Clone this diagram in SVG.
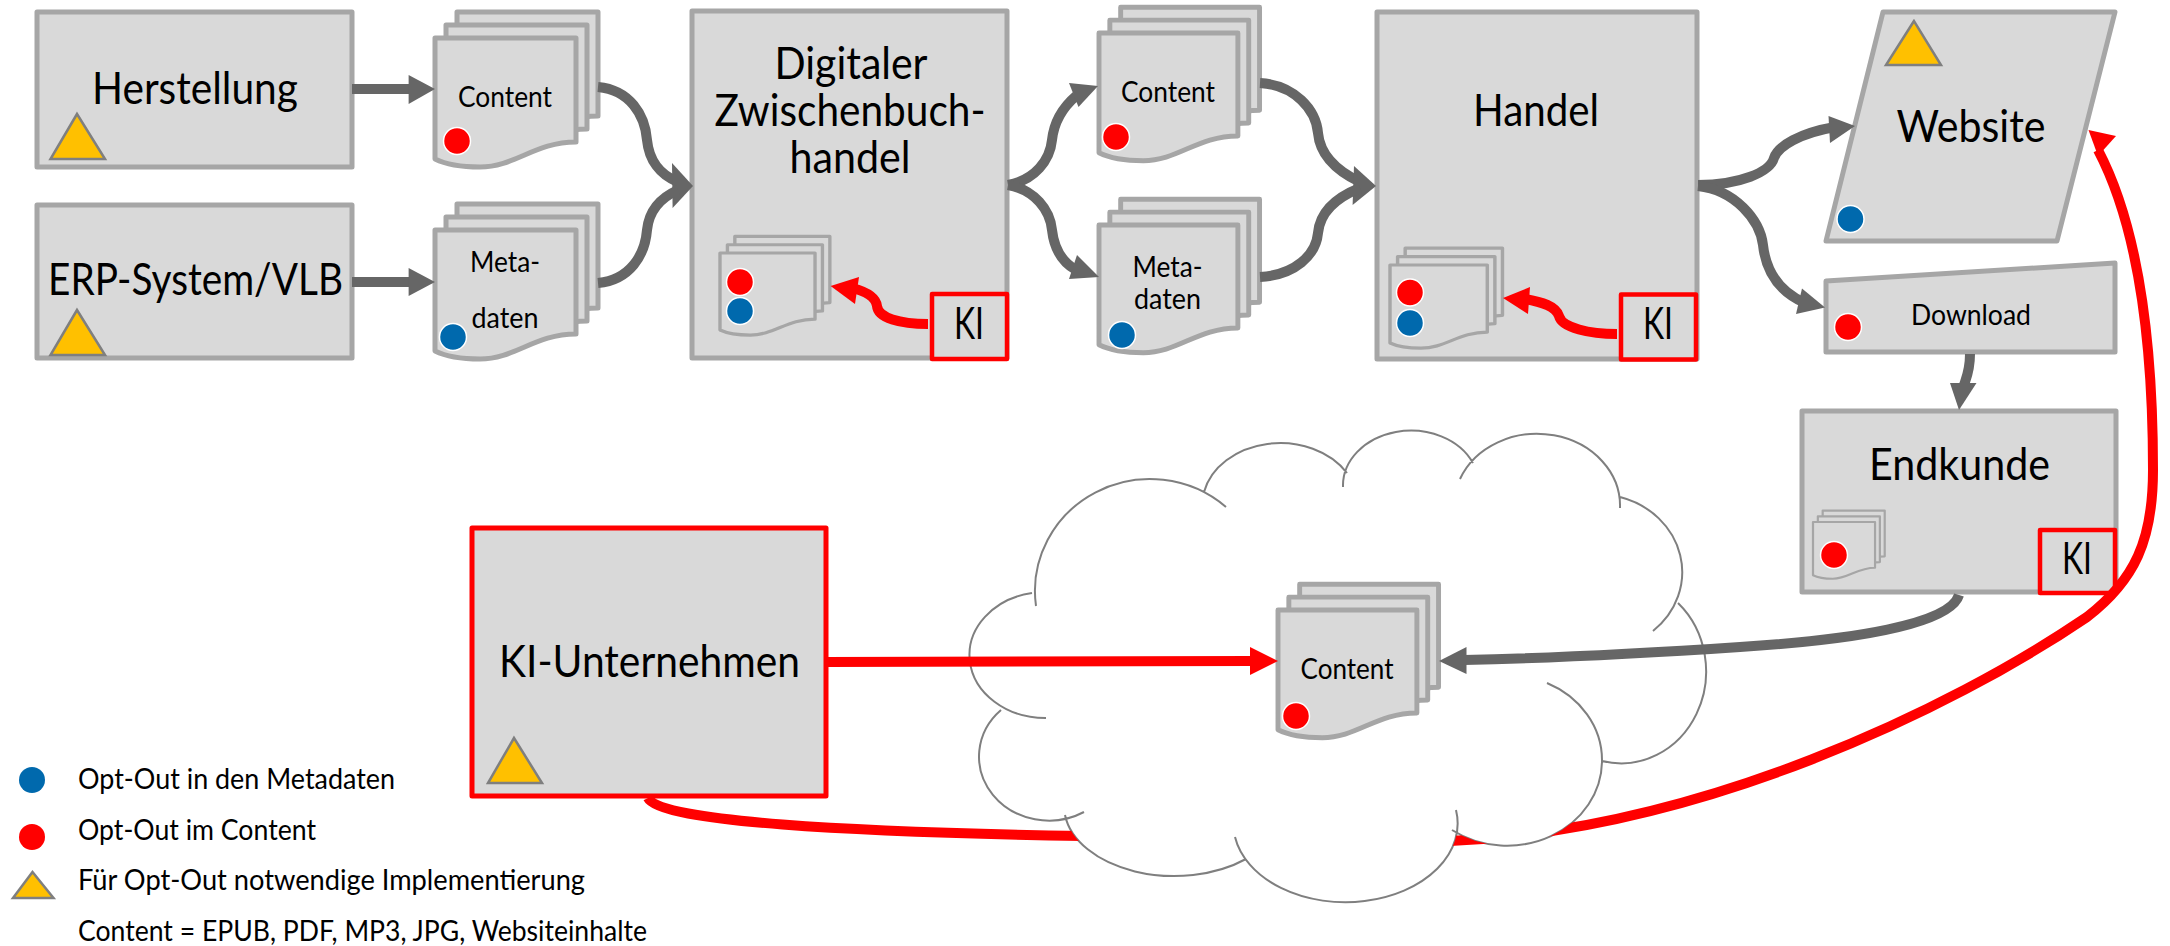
<svg xmlns="http://www.w3.org/2000/svg" xmlns:xlink="http://www.w3.org/1999/xlink" width="2170" height="946" viewBox="0 0 2170 946">
<style>
text{font-family:"Lato","Liberation Sans",sans-serif;fill:#000;text-anchor:middle}
.lg{font-size:44px}.sm{font-size:28px}.leg{font-size:28px;text-anchor:start}
.box,.pg{fill:#d9d9d9;stroke:#a6a6a6;stroke-width:5;stroke-linejoin:round}
.pg{stroke-width:5;vector-effect:non-scaling-stroke}
.ki{fill:#d9d9d9;stroke:#f00;stroke-width:4.5;stroke-linejoin:round}
.tri{fill:#ffc000;stroke:#7f7f7f;stroke-width:2.5}
.r{fill:#f00;stroke:#fff;stroke-width:1.5}.b{fill:#0069ad;stroke:#fff;stroke-width:1.5}
.g{fill:none;stroke:#666;stroke-width:10}.gh{fill:#666}
.rl{fill:none;stroke:#f00;stroke-width:10}.rh{fill:#f00}
.cl{fill:none;stroke:#7f7f7f;stroke-width:2}
</style>
<defs>
<path id="page" d="M0,0H141V104C100,104 80,129 45,129C28,129 12,127 0,121Z"/>
<g id="stack" class="pg">
<use xlink:href="#page" href="#page" x="22" y="-26" class="pg"/>
<use xlink:href="#page" href="#page" x="11" y="-13" class="pg"/>
<use xlink:href="#page" href="#page" class="pg"/>
</g>
<path id="cloudShape" d="M1036,606A115 112 0 0 1 1226,507M1204,492A78 62 0 0 1 1347,473M1343,487A68 55 0 0 1 1473,463M1460,479A83 72 0 0 1 1620,508M1620,497A85 78 0 0 1 1653,631M1678,603A85 92 0 0 1 1602,761M1547,683A95 85 0 0 1 1602,760A95 85 0 0 1 1452,830M1456,810A111 78 0 0 1 1235,837M1246,859A110 70 0 0 1 1065,815M1084,812A70 64 0 0 1 1001,710M1046,718A76 63 0 0 1 1032,593M1032,593L1204,492L1347,473L1473,463L1620,497L1678,603L1602,761L1452,830L1246,859L1065,815L1001,710Z"/>
<path id="cloudArcs" d="M1036,606A115 112 0 0 1 1226,507M1204,492A78 62 0 0 1 1347,473M1343,487A68 55 0 0 1 1473,463M1460,479A83 72 0 0 1 1620,508M1620,497A85 78 0 0 1 1653,631M1678,603A85 92 0 0 1 1602,761M1547,683A95 85 0 0 1 1602,760A95 85 0 0 1 1452,830M1456,810A111 78 0 0 1 1235,837M1246,859A110 70 0 0 1 1065,815M1084,812A70 64 0 0 1 1001,710M1046,718A76 63 0 0 1 1032,593"/>
<mask id="behindCloud" maskUnits="userSpaceOnUse" x="0" y="0" width="2170" height="946">
<rect width="2170" height="946" fill="#fff"/>
<use xlink:href="#cloudShape" href="#cloudShape" fill="#000"/>
</mask>
</defs>
<rect width="2170" height="946" fill="#fff"/>

<g id="cloud">
<use xlink:href="#cloudShape" href="#cloudShape" fill="#fff"/>
<use xlink:href="#cloudArcs" href="#cloudArcs" class="cl"/>
</g>

<g id="herstellung">
<rect class="box" x="37" y="12" width="315" height="155"/>
<polygon class="tri" points="77,114 50.5,159 105,159"/>
<text class="lg" x="195" y="104" textLength="206" lengthAdjust="spacingAndGlyphs">Herstellung</text>
</g>
<g id="erp">
<rect class="box" x="37" y="205" width="315" height="153"/>
<polygon class="tri" points="77,310 50.5,355 105,355"/>
<text class="lg" x="195.500" y="295" textLength="295" lengthAdjust="spacingAndGlyphs">ERP-System/VLB</text>
</g>
<g id="content1">
<use xlink:href="#stack" href="#stack" transform="translate(435,38)"/>
<text class="sm" x="505" y="107" textLength="94" lengthAdjust="spacingAndGlyphs">Content</text>
<circle class="r" cx="457" cy="141" r="13.500"/>
</g>
<g id="meta1">
<use xlink:href="#stack" href="#stack" transform="translate(435,230)"/>
<text class="sm" x="505" y="272" textLength="70" lengthAdjust="spacingAndGlyphs">Meta-</text>
<text class="sm" x="505" y="328" textLength="67" lengthAdjust="spacingAndGlyphs">daten</text>
<circle class="b" cx="453" cy="337" r="13.500"/>
</g>
<g id="zwischenbuchhandel">
<rect class="box" x="692" y="11" width="315" height="347"/>
<text class="lg" x="851" y="79" textLength="153" lengthAdjust="spacingAndGlyphs">Digitaler</text>
<text class="lg" x="850" y="126" textLength="271" lengthAdjust="spacingAndGlyphs">Zwischenbuch-</text>
<text class="lg" x="850" y="173" textLength="121" lengthAdjust="spacingAndGlyphs">handel</text>
<use xlink:href="#stack" href="#stack" transform="translate(720,253) scale(.674,.636)"/>
<circle class="r" cx="740" cy="282" r="13.500"/>
<circle class="b" cx="740" cy="311" r="13.500"/>
<rect class="ki" x="932" y="294" width="75" height="65"/>
<text class="lg" x="969" y="339" textLength="30" lengthAdjust="spacingAndGlyphs">KI</text>
</g>
<g id="content2">
<use xlink:href="#stack" href="#stack" transform="translate(1099,33) scale(.985,.99)"/>
<text class="sm" x="1168" y="102" textLength="94" lengthAdjust="spacingAndGlyphs">Content</text>
<circle class="r" cx="1116" cy="137" r="13.500"/>
</g>
<g id="meta2">
<use xlink:href="#stack" href="#stack" transform="translate(1099,225) scale(.985,.99)"/>
<text class="sm" x="1167.500" y="277" textLength="70" lengthAdjust="spacingAndGlyphs">Meta-</text>
<text class="sm" x="1167.500" y="309" textLength="67" lengthAdjust="spacingAndGlyphs">daten</text>
<circle class="b" cx="1122" cy="335" r="13.500"/>
</g>
<g id="handel">
<rect class="box" x="1377" y="12" width="320" height="347"/>
<text class="lg" x="1536" y="126" textLength="126" lengthAdjust="spacingAndGlyphs">Handel</text>
<use xlink:href="#stack" href="#stack" transform="translate(1390,265) scale(.69,.645)"/>
<circle class="r" cx="1410" cy="292.500" r="13.500"/>
<circle class="b" cx="1410" cy="323" r="13.500"/>
<rect class="ki" x="1621" y="294.500" width="75" height="65"/>
<text class="lg" x="1658" y="339" textLength="30" lengthAdjust="spacingAndGlyphs">KI</text>
</g>
<g id="website">
<polygon class="box" points="1883,12 2115,12 2057,241 1826,241"/>
<polygon class="tri" points="1914,21 1886,65 1941,65"/>
<text class="lg" x="1971" y="142" textLength="149" lengthAdjust="spacingAndGlyphs">Website</text>
<circle class="b" cx="1850.500" cy="219" r="13.500"/>
</g>
<g id="download">
<polygon class="box" points="1826,281 2115,263 2115,352 1826,352"/>
<text class="sm" x="1971" y="325" textLength="120" lengthAdjust="spacingAndGlyphs">Download</text>
<circle class="r" cx="1848" cy="327" r="13.500"/>
</g>
<g id="endkunde">
<rect class="box" x="1802" y="411" width="314" height="181"/>
<text class="lg" x="1959.500" y="480" textLength="181" lengthAdjust="spacingAndGlyphs">Endkunde</text>
<use xlink:href="#stack" href="#stack" transform="translate(1813,522) scale(.44,.44)"/>
<circle class="r" cx="1834" cy="555" r="13.500"/>
<rect class="ki" x="2040" y="530" width="75" height="63"/>
<text class="lg" x="2077" y="574" textLength="30" lengthAdjust="spacingAndGlyphs">KI</text>
</g>
<g id="ki-unternehmen">
<rect class="ki" x="472" y="528" width="354" height="268" style="stroke-width:5"/>
<polygon class="tri" points="514,738 488,783 542,783"/>
<text class="lg" x="649.500" y="677" textLength="301" lengthAdjust="spacingAndGlyphs">KI-Unternehmen</text>
</g>
<g id="content3">
<use xlink:href="#stack" href="#stack" transform="translate(1278,610) scale(.985,.99)"/>
<text class="sm" x="1347" y="679" textLength="93" lengthAdjust="spacingAndGlyphs">Content</text>
<circle class="r" cx="1296" cy="716" r="13.500"/>
</g>
<g id="legend">
<circle cx="32" cy="780" r="13" fill="#0069ad"/>
<text class="leg" x="78" y="789" textLength="317" lengthAdjust="spacingAndGlyphs">Opt-Out in den Metadaten</text>
<circle cx="32" cy="837" r="13" fill="#f00"/>
<text class="leg" x="78" y="840" textLength="238" lengthAdjust="spacingAndGlyphs">Opt-Out im Content</text>
<polygon class="tri" points="32.500,872 13,898 53.500,898"/>
<text class="leg" x="78" y="890" textLength="507" lengthAdjust="spacingAndGlyphs">Für Opt-Out notwendige Implementierung</text>
<text class="leg" x="78" y="941" textLength="569" lengthAdjust="spacingAndGlyphs">Content = EPUB, PDF, MP3, JPG, Websiteinhalte</text>
</g>

<g id="connectors">
<path class="g" d="M352,89H412"/><polygon class="gh" points="435,89 408.600,75 408.600,104"/>
<path class="g" d="M352,282H412"/><polygon class="gh" points="435,282 408.600,268 408.600,296"/>
<path class="g" d="M598,87C630,90 645,115 647,140C649,160 660,175 678,182"/><polygon class="gh" points="693,186 672,163 672.600,208"/>
<path class="g" d="M598,283C630,280 645,255 647,230C649,210 660,198 678,190"/>
<path class="g" d="M1008,185C1035,180 1050,160 1052,140C1054,122 1062,108 1076,96"/><polygon class="gh" points="1098,86 1069,83 1078.500,107"/>
<path class="g" d="M1008,185C1035,190 1050,210 1052,230C1054,248 1062,262 1076,270"/><polygon class="gh" points="1099,277 1077,255 1069,279"/>
<path class="g" d="M1260,83C1295,85 1316,110 1318,133C1320,155 1335,170 1360,182"/><polygon class="gh" points="1376,186 1354,166 1352.600,205"/>
<path class="g" d="M1260,277C1295,275 1316,255 1318,233C1320,212 1335,198 1360,188"/>
<path class="g" d="M1698,185C1740,185 1770,172 1774,158C1778,146 1800,133 1835,127"/><polygon class="gh" points="1855,126 1828.500,116 1830,143"/>
<path class="g" d="M1698,186C1735,190 1760,220 1763,245C1766,272 1780,292 1805,303"/><polygon class="gh" points="1825,307.500 1802,288.500 1796,314"/>
<path class="g" d="M1970,354C1970,372 1966,378 1963,388"/><polygon class="gh" points="1959,410 1950,383 1976.500,383"/>
<path class="rl" d="M928,324C900,324 878,318 877,306C876,298 868,292 852,288"/><polygon class="rh" points="830.600,286 859,277 855,304"/>
<path class="rl" d="M1617,334C1590,334 1562,328 1559,316C1556,306 1542,302 1525,299"/><polygon class="rh" points="1503,298 1530,287 1528,314"/>
<path class="rl" d="M826,662L1252,661"/><polygon class="rh" points="1278,661 1250,647 1250,675"/>
<path class="g" d="M1959,595C1950,625 1850,640 1740,647C1650,653 1560,658 1464,660"/><polygon class="gh" points="1439,661 1466.500,647 1466.500,674"/>
<path class="rl" mask="url(#behindCloud)" d="M648,798C660,822 850,832 1083,836L1450,841C1700,830 1950,710 2087,617C2135,580 2153,540 2153,470C2153,350 2140,230 2098,150"/><polygon class="rh" points="2088.500,130 2116,136 2098,156"/>
</g>
</svg>
